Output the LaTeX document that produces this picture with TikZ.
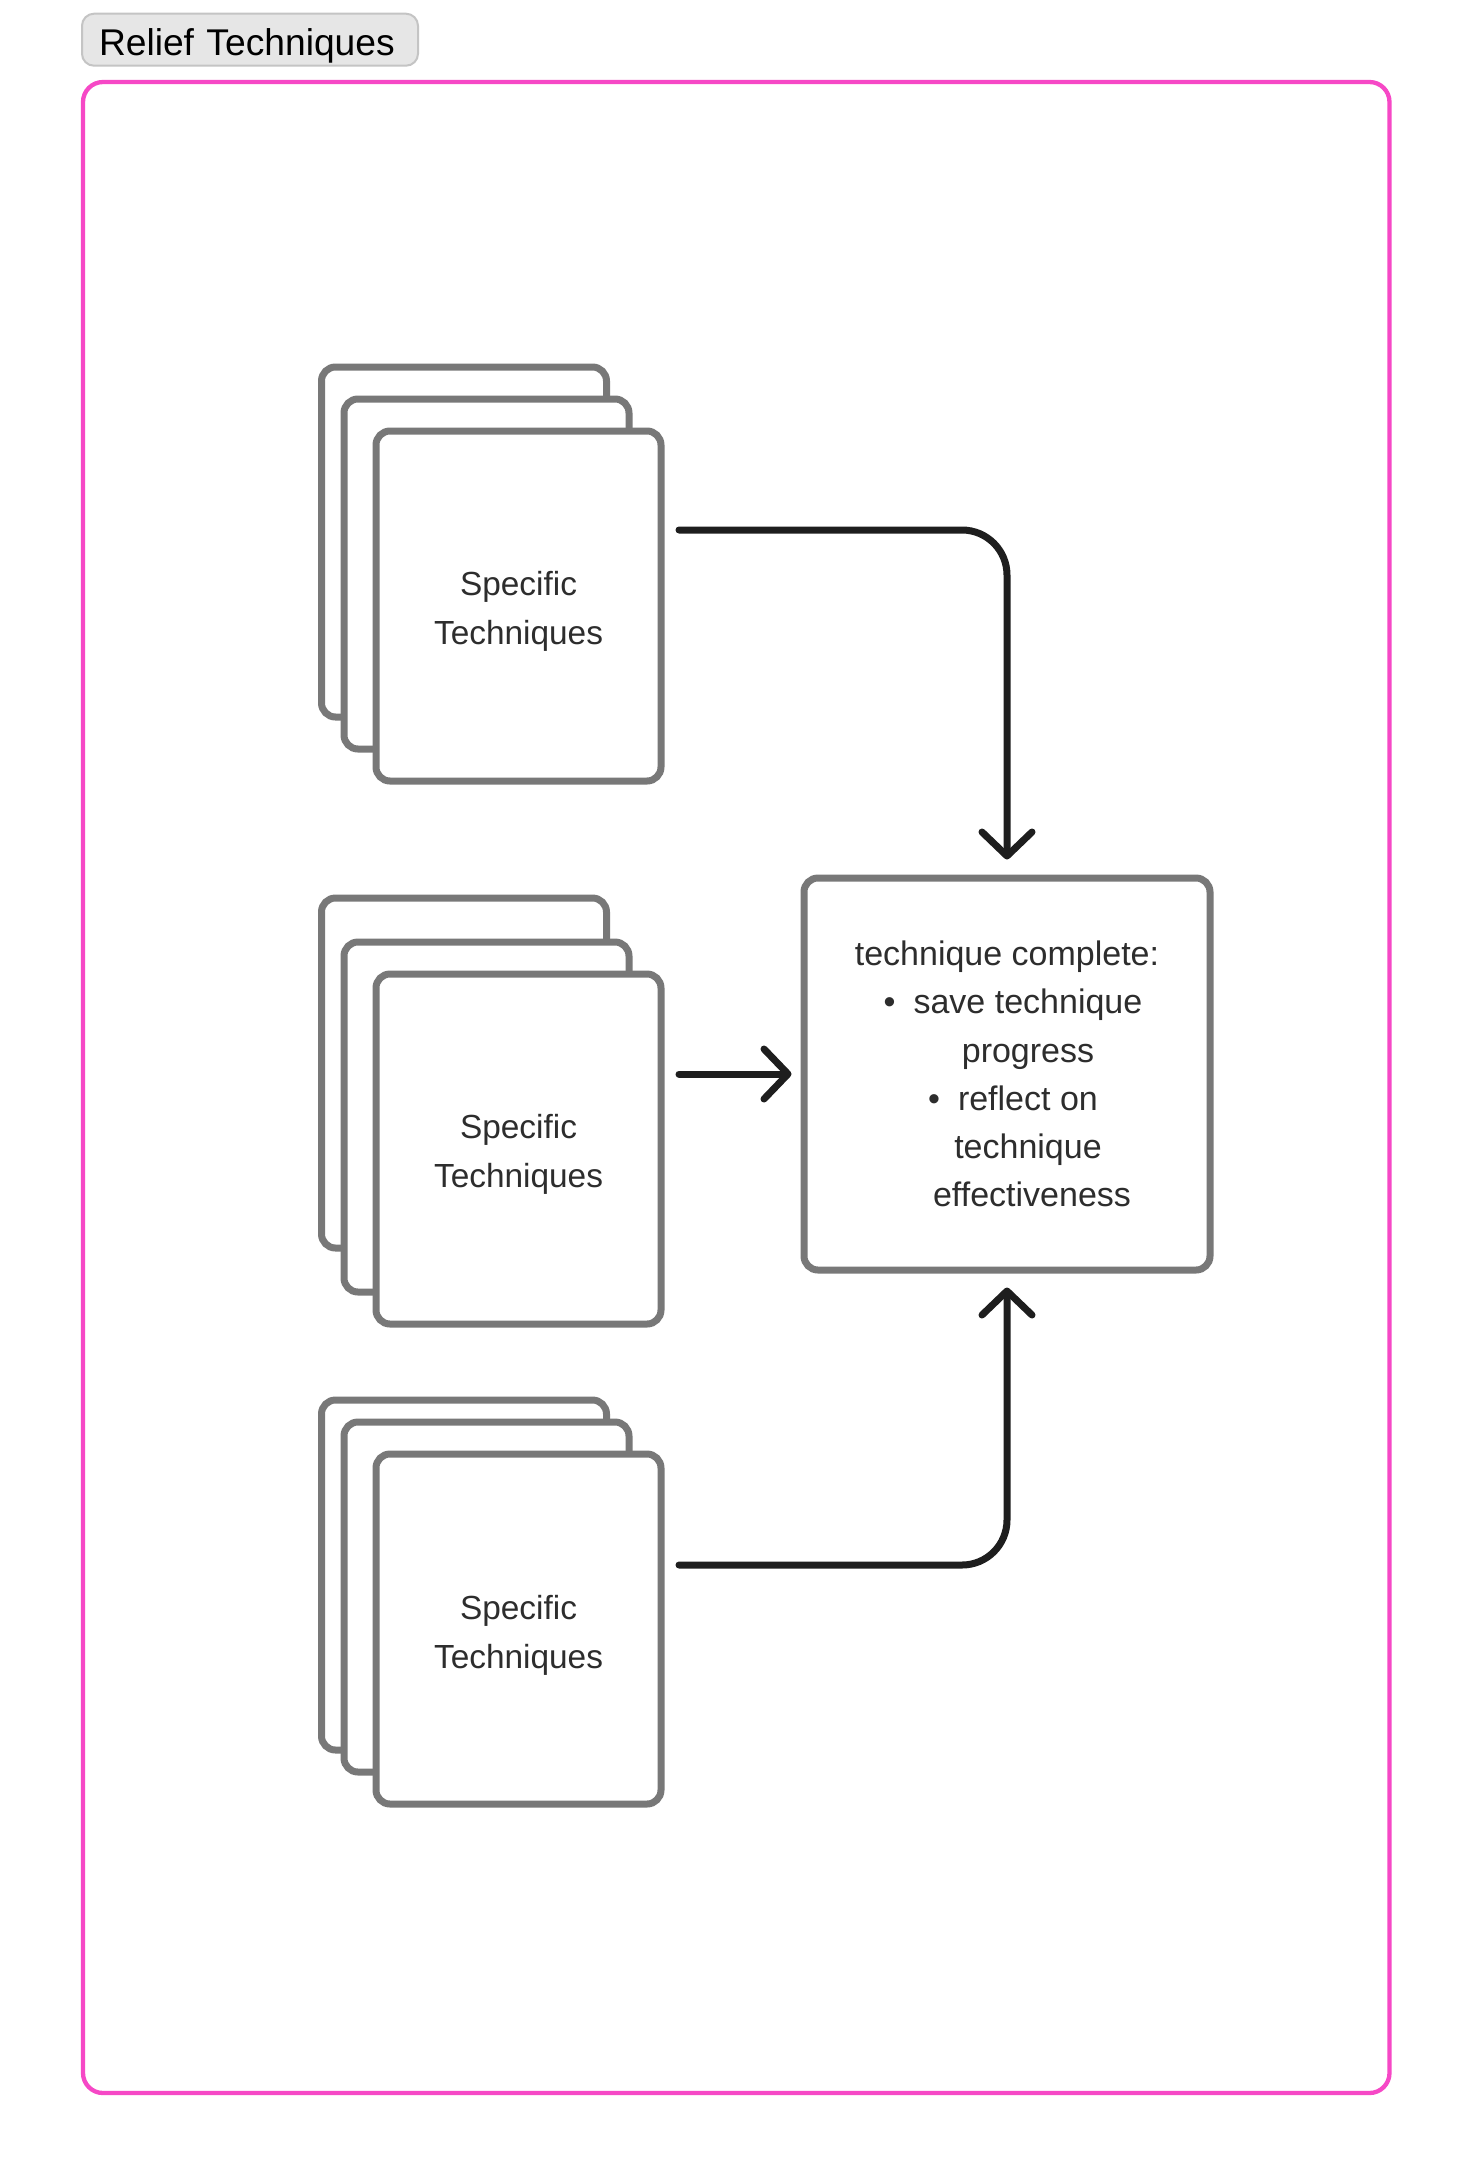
\documentclass[tikz,border=0pt]{standalone}
\usepackage{fontspec}
\setmainfont{Liberation Sans}
\usetikzlibrary{arrows.meta,calc}
\definecolor{pinkf}{RGB}{246,72,198}
\definecolor{cardgray}{RGB}{120,120,120}
\definecolor{arrowc}{RGB}{30,30,30}
\definecolor{txt}{RGB}{45,45,45}
\definecolor{titlefill}{RGB}{230,230,230}
\definecolor{titledraw}{RGB}{196,196,196}
\newcommand{\cardlines}[1]{\raisebox{#1}[\height][\depth]{\begin{tabular}{@{}c@{}}Specific\\Techniques\end{tabular}}}
\begin{document}
\begin{tikzpicture}[x=0.5pt,y=-0.5pt,
  card/.style={draw=cardgray, line width=3.5pt, fill=white, rounded corners=7pt,
    minimum width=142.5pt, minimum height=175pt, inner sep=0pt, anchor=north west},
  cardtext/.style={card, text=txt, font=\fontsize{16.7}{24.3}\selectfont},
  mainbox/.style={draw=cardgray, line width=3.5pt, fill=white, rounded corners=7pt,
    minimum width=203pt, minimum height=196pt, inner sep=0pt, text=txt,
    font=\fontsize{17}{24.1}\selectfont, align=center},
  conn/.style={draw=arrowc, line width=3.5pt, line cap=round, line join=round,
    -{Straight Barb[length=12pt,width=25pt,round]}},
  framebox/.style={draw=pinkf, line width=2.15pt, rounded corners=10pt,
    minimum width=653.25pt, minimum height=1005.5pt, inner sep=0pt},
  titlebox/.style={draw=titledraw, fill=titlefill, line width=1pt, rounded corners=6pt,
    minimum height=26pt, text width=151pt, inner xsep=8.5pt, inner ysep=0pt,
    align=left, font=\fontsize{18.6}{22}\selectfont, text=black}
]
\useasboundingbox (0,0) rectangle (1472,2176);
\fill[white] (0,0) rectangle (1472,2176);

% container and title
\node[framebox] (frame) at (736.25,1087.5) {};
\node[titlebox] (title) at (250,39.7) {\raisebox{-3pt}[\height][\depth]{Relief Techniques}};

% stack 1
\node[card] (b1) at (318,363.5) {};
\node[card] (m1) at (340.5,395.5) {};
\node[cardtext] (f1) at (372.5,427.5) {\cardlines{-2.2pt}};
% stack 2
\node[card] (b2) at (318,894.5) {};
\node[card] (m2) at (340.5,938.5) {};
\node[cardtext] (f2) at (372.5,970.5) {\cardlines{-2.2pt}};
% stack 3
\node[card] (b3) at (318,1396.5) {};
\node[card] (m3) at (340.5,1418.5) {};
\node[cardtext] (f3) at (372.5,1450.5) {\cardlines{-2.7pt}};

% central box
\node[mainbox] (cbox) at (1007,1074) {technique complete:\\
\hspace{6pt}\textbullet\hspace{9pt}save technique\\
\hspace{21pt}progress\\
\hspace{6pt}\textbullet\hspace{9pt}reflect on\\
\hspace{21pt}technique\\
\hspace{25pt}effectiveness};

% connector start points
\coordinate (s1) at (679,530);
\coordinate (s2) at (679,1074);
\coordinate (s3) at (679,1565);

\draw[conn, rounded corners=22.5pt] (s1) -| ([yshift=7.5pt]cbox.north);
\draw[conn] (s2) -- ([xshift=-4.5pt]cbox.west);
\draw[conn, rounded corners=22.5pt] (s3) -| ([yshift=-7pt]cbox.south);
\end{tikzpicture}
\end{document}
